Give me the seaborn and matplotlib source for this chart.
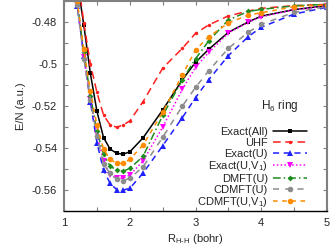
import numpy as np
import pandas as pd
import seaborn as sns
import matplotlib
matplotlib.use("Agg")
import matplotlib.pyplot as plt
from matplotlib.ticker import MultipleLocator, FuncFormatter

# bond length R_H-H (bohr)
r_hh = [1.1, 1.2, 1.3, 1.4, 1.5, 1.6, 1.7, 1.8, 1.9, 2.0,
        2.2, 2.5, 2.8, 3.0, 3.2, 3.5, 3.8, 4.0, 4.5, 5.0]

# energy per atom (a.u.)
exact_all = [-0.432, -0.4605, -0.4815, -0.5045, -0.5225, -0.5350, -0.5405, -0.5425, -0.5429, -0.5418,
             -0.5352, -0.5219, -0.5075, -0.4992, -0.4930, -0.4849, -0.4800, -0.4772, -0.4741, -0.4722]
uhf = [-0.428, -0.457, -0.4803, -0.5000, -0.5135, -0.5243, -0.5290, -0.5301, -0.5290, -0.5271,
       -0.5180, -0.5020, -0.4925, -0.4854, -0.4814, -0.4771, -0.4748, -0.4735, -0.4722, -0.4716]
exact_u = [-0.446, -0.4725, -0.4960, -0.5180, -0.5375, -0.5505, -0.5568, -0.5598, -0.5600, -0.5592,
           -0.5520, -0.5389, -0.5255, -0.5160, -0.5075, -0.4960, -0.4870, -0.4825, -0.4762, -0.4730]
exact_uv1 = [-0.444, -0.4712, -0.4965, -0.5165, -0.5335, -0.5460, -0.5529, -0.5544, -0.5544, -0.5529,
             -0.5462, -0.5300, -0.5120, -0.5015, -0.4945, -0.4852, -0.4802, -0.4775, -0.4742, -0.4724]
dmft_u = [-0.443, -0.4705, -0.4945, -0.5150, -0.5320, -0.5430, -0.5486, -0.5505, -0.5510, -0.5497,
          -0.5440, -0.5245, -0.5075, -0.4975, -0.4890, -0.4790, -0.4750, -0.4740, -0.4723, -0.4716]
cdmft_u = [-0.444, -0.4720, -0.4975, -0.5170, -0.5345, -0.5476, -0.5521, -0.5548, -0.5555, -0.5544,
           -0.5490, -0.5349, -0.5200, -0.5111, -0.5032, -0.4925, -0.4849, -0.4811, -0.4754, -0.4727]
cdmft_uv1 = [-0.442, -0.4700, -0.4930, -0.5130, -0.5290, -0.5405, -0.5454, -0.5473, -0.5473, -0.5454,
             -0.5386, -0.5230, -0.5052, -0.4933, -0.4870, -0.4805, -0.4767, -0.4756, -0.4727, -0.4719]

labels = ["Exact(All)", "UHF", "Exact(U)", "Exact(U,V$_1$)", "DMFT(U)", "CDMFT(U)", "CDMFT(U,V$_1$)"]

sns.set_style("ticks")
plt.rcParams['font.family'] = ['Liberation Sans', 'DejaVu Sans']
plt.rcParams['mathtext.fontset'] = 'custom'
plt.rcParams['mathtext.rm'] = 'Liberation Sans'
plt.rcParams['mathtext.it'] = 'Liberation Sans:italic'
plt.rcParams['axes.unicode_minus'] = False

fig, ax = plt.subplots(figsize=(3.32, 2.48), dpi=100)
fig.subplots_adjust(left=0.193, right=0.985, bottom=0.149, top=0.996)

styles = [  # color, linestyle, marker, markersize
    ("black", "-", "s", 2.5),
    ("#ff1f1f", (0, (5, 3)), "o", 2.5),
    ("#2020ff", (0, (4, 3)), "^", 4),
    ("#ff00ff", (0, (1, 1.5)), "v", 4),
    ("#1f8c1f", (0, (5, 2, 1, 2)), "D", 3),
    ("#8c8c8c", (0, (4, 4)), "o", 4),
    ("#ff8c00", (0, (3, 3)), "o", 4),
]
series = [exact_all, uhf, exact_u, exact_uv1, dmft_u, cdmft_u, cdmft_uv1]

for vals, lab, (col, ls, mk, ms) in zip(series, labels, styles):
    df = pd.DataFrame({"R": r_hh, "E": vals})
    sns.lineplot(data=df, x="R", y="E", ax=ax, color=col, linestyle=ls, marker=mk,
                 markersize=ms, markeredgewidth=0, linewidth=1.1, label=lab, clip_on=True)

ax.set_xlim(1, 5)
ax.set_ylim(-0.57, -0.47)
ax.xaxis.set_major_locator(MultipleLocator(1))
ax.xaxis.set_minor_locator(MultipleLocator(0.5))
ax.yaxis.set_major_locator(MultipleLocator(0.02))
ax.yaxis.set_minor_locator(MultipleLocator(0.01))
ax.yaxis.set_major_formatter(FuncFormatter(lambda v, p: "%g" % round(v, 4)))
ax.tick_params(which="both", direction="in", top=True, right=True, length=3,
               width=0.8, color="#808080", labelsize=8, pad=5)

for side in ["left", "top", "right"]:
    ax.spines[side].set_color("#808080")
    ax.spines[side].set_linewidth(1.5)
ax.spines["bottom"].set_color("black")
ax.spines["bottom"].set_linewidth(1.0)

ax.set_xlabel(r"R$_{\mathrm{H\text{-}H}}$ (bohr)", fontsize=8, labelpad=3)
ax.set_ylabel("E/N (a.u.)", fontsize=8, labelpad=4)

handles, labs = ax.get_legend_handles_labels()
leg = ax.legend(handles, labs, loc="upper right", bbox_to_anchor=(0.94, 0.42),
                frameon=False, markerfirst=False, fontsize=8, handlelength=3.0,
                handletextpad=0.5, labelspacing=0.06, borderaxespad=0)
ax.text(0.82, 0.50, "H$_6$ ring", transform=ax.transAxes, ha="center", va="center", fontsize=8.5)

fig.savefig("out.png", dpi=100)
